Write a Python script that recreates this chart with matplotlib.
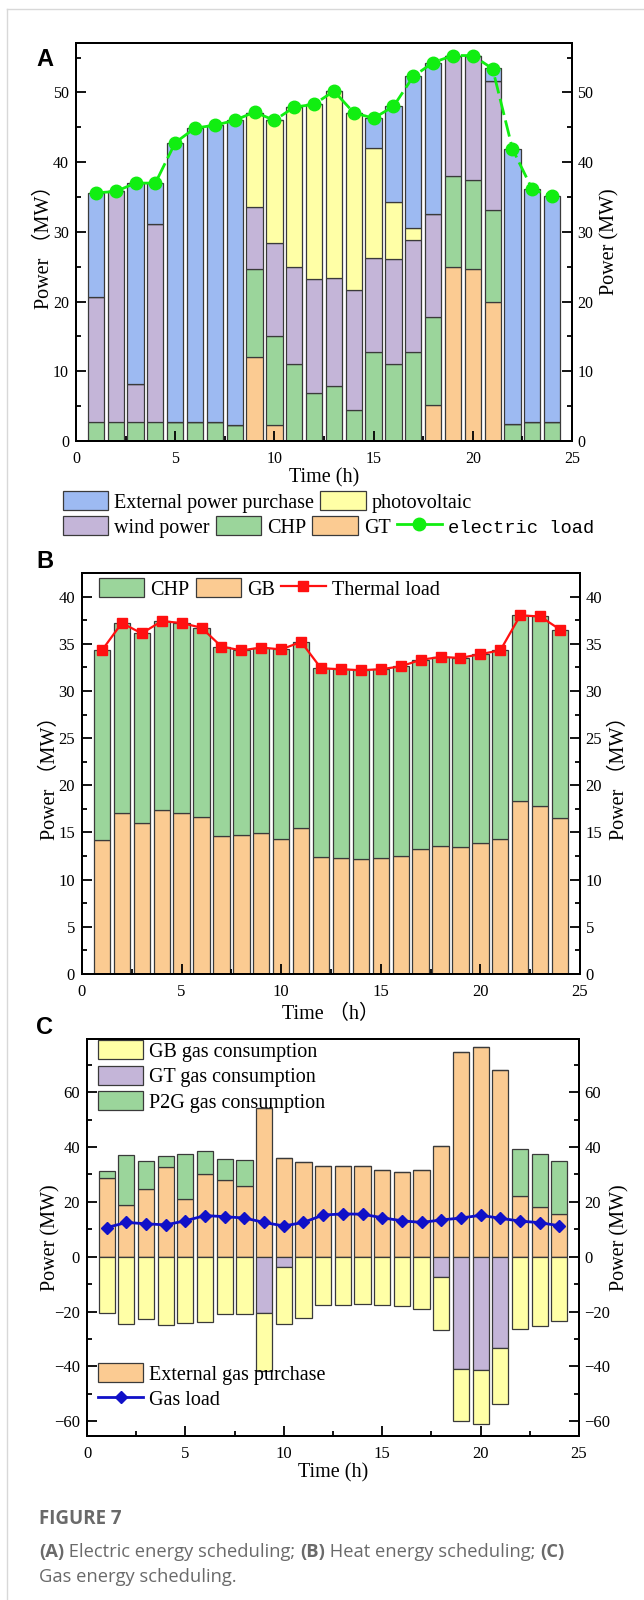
import matplotlib
matplotlib.use('Agg')
import matplotlib.pyplot as plt
import numpy as np
from matplotlib.lines import Line2D
from matplotlib.ticker import MultipleLocator

hours = np.arange(1, 25)

# (A) electric energy scheduling, MW
gt_power = [0, 0, 0, 0, 0, 0, 0, 0, 12.1, 2.3, 0, 0, 0, 0, 0, 0, 0, 5.1, 25.0, 24.7, 19.9, 0, 0, 0]
chp_power = [2.7, 2.7, 2.7, 2.7, 2.7, 2.7, 2.7, 2.3, 12.6, 12.8, 11.1, 6.9, 7.9, 4.5, 12.7, 11.0,
             12.7, 12.7, 13.0, 12.8, 13.2, 2.4, 2.7, 2.7]
wind_power = [18.0, 33.1, 5.5, 28.5, 0, 0, 0, 0, 8.8, 13.3, 13.9, 16.4, 15.5, 17.2, 13.6, 15.1,
              16.1, 14.7, 17.2, 17.7, 18.5, 0, 0, 0]
pv_power = [0, 0, 0, 0, 0, 0, 0, 0, 13.6, 17.6, 22.9, 25.0, 26.8, 25.4, 15.8, 8.2,
            1.8, 0, 0, 0, 0, 0, 0, 0]
ext_power = [14.9, 0, 28.8, 5.8, 40.1, 42.2, 42.6, 43.7, 0, 0, 0, 0, 0, 0, 4.2, 13.7,
             21.7, 21.8, 0, 0, 1.9, 39.5, 33.4, 32.4]
elec_load = [35.6, 35.8, 37.0, 37.0, 42.8, 44.9, 45.3, 46.0, 47.2, 46.0, 47.9, 48.3, 50.2, 47.1,
             46.3, 48.0, 52.3, 54.3, 55.3, 55.3, 53.4, 41.9, 36.1, 35.1]

# (B) heat energy scheduling, MW
gb_heat = [14.2, 17.1, 16.0, 17.4, 17.1, 16.6, 14.6, 14.7, 14.9, 14.3, 15.5, 12.4, 12.3, 12.2,
           12.3, 12.5, 13.3, 13.6, 13.5, 13.9, 14.3, 18.3, 17.8, 16.5]
chp_heat = [20.1, 20.1, 20.1, 20.0, 20.1, 20.1, 20.1, 19.6, 19.7, 20.1, 19.7, 20.0, 20.0, 20.0,
            20.0, 20.1, 20.0, 20.0, 20.0, 20.0, 20.0, 19.7, 20.1, 20.0]
thermal_load = [34.3, 37.2, 36.1, 37.4, 37.2, 36.7, 34.7, 34.3, 34.6, 34.4, 35.2, 32.4, 32.3, 32.2,
                32.3, 32.6, 33.3, 33.6, 33.5, 33.9, 34.3, 38.0, 37.9, 36.5]

# (C) gas energy scheduling, MW (consumptions drawn below zero)
ext_gas = [28.8, 18.7, 24.7, 32.7, 21.1, 30.2, 27.9, 25.9, 54.2, 35.9, 34.6, 33.0, 33.2, 32.9,
           31.8, 31.0, 31.5, 40.5, 74.6, 76.4, 68.0, 22.1, 18.0, 15.5]
p2g_gas = [2.4, 18.4, 10.2, 3.9, 16.4, 8.5, 7.6, 9.4, 0, 0, 0, 0, 0, 0, 0, 0, 0, 0, 0, 0, 0,
           17.2, 19.6, 19.4]
gt_gas = [0, 0, 0, 0, 0, 0, 0, 0, 20.4, 3.9, 0, 0, 0, 0, 0, 0, 0, 7.3, 40.8, 41.2, 33.3, 0, 0, 0]
gb_gas = [20.4, 24.5, 22.8, 25.0, 24.2, 23.8, 20.8, 20.9, 21.2, 20.5, 22.2, 17.7, 17.6, 17.3,
          17.7, 17.9, 19.2, 19.5, 19.3, 20.0, 20.4, 26.2, 25.3, 23.5]
gas_load = [10.6, 12.5, 12.0, 11.6, 13.1, 15.0, 14.6, 14.1, 12.5, 11.2, 12.5, 15.2, 15.6, 15.5,
            14.2, 13.1, 12.5, 13.4, 14.1, 15.1, 14.0, 13.0, 12.4, 11.3]

plt.rcParams['font.family'] = ['Liberation Serif', 'Noto Sans CJK SC']
plt.rcParams['font.size'] = 12

c_ext = '#9dbaf2'
c_pv = '#ffffa6'
c_wind = '#c4b5d8'
c_chp = '#9bd59b'
c_orange = '#fbcb92'
edge = '#3a3a3a'
W, H = 644, 1600

fig = plt.figure(figsize=(W / 100, H / 100), dpi=100)


def box(l, t, r, b):
    return [l / W, 1 - b / H, (r - l) / W, (b - t) / H]


def style(ax, ylim, major, minor, left_label, right_label, xlabel, lx, rx, tsize=12, xpad=1):
    ax.set_xlim(0, 25)
    ax.set_ylim(*ylim)
    ax.xaxis.set_major_locator(MultipleLocator(5))
    ax.xaxis.set_minor_locator(MultipleLocator(2.5))
    ax2 = ax.twinx()
    ax2.set_ylim(*ylim)
    for a in (ax, ax2):
        a.yaxis.set_major_locator(MultipleLocator(major))
        a.yaxis.set_minor_locator(MultipleLocator(minor))
        a.tick_params(which='both', direction='in', width=1.3, labelsize=tsize)
        a.tick_params(which='major', length=7)
        a.tick_params(which='minor', length=3.5)
        for s in a.spines.values():
            s.set_linewidth(1.4)
    ax.tick_params(axis='y', pad=5)
    ax.tick_params(axis='x', pad=7)
    ax2.tick_params(axis='y', pad=4)
    ax.set_ylabel(left_label, fontsize=14.5)
    ax2.set_ylabel(right_label, fontsize=14.5)
    ax.yaxis.set_label_coords(lx, 0.5)
    ax2.yaxis.set_label_coords(rx, 0.5)
    ax.set_xlabel(xlabel, fontsize=14.5, labelpad=xpad)
    return ax2


bar_kw = dict(width=0.82, edgecolor=edge, linewidth=0.9)
leg_kw = dict(frameon=False, borderpad=0, borderaxespad=0, handlelength=2.25, handleheight=1.1,
              handletextpad=0.3, columnspacing=0.3, fontsize=14.5, loc='upper left')

# ---------- A ----------
axA = fig.add_axes(box(76, 43, 572, 441))
bottom = np.zeros(24)
b_gt = axA.bar(hours, gt_power, bottom=bottom, color=c_orange, **bar_kw)
bottom += gt_power
b_chp = axA.bar(hours, chp_power, bottom=bottom, color=c_chp, **bar_kw)
bottom += chp_power
b_wind = axA.bar(hours, wind_power, bottom=bottom, color=c_wind, **bar_kw)
bottom += wind_power
b_pv = axA.bar(hours, pv_power, bottom=bottom, color=c_pv, **bar_kw)
bottom += pv_power
b_ext = axA.bar(hours, ext_power, bottom=bottom, color=c_ext, **bar_kw)
l_el, = axA.plot(hours, elec_load, color='#11ee11', lw=2, ls=(0, (6, 2)), marker='o', ms=9,
                 zorder=5)
style(axA, (0, 57.1), 10, 5, 'Power （MW）', 'Power (MW)', 'Time (h)', -0.044, 1.056,
      tsize=11.5)

fig.legend([b_ext, b_pv], ['External power purchase', 'photovoltaic'], ncol=2,
           bbox_to_anchor=(63 / W, 1 - 491 / H), **leg_kw)
lg = fig.legend([b_wind, b_chp, b_gt, Line2D([], [], color='#11ee11', lw=2, marker='o', ms=9)],
                ['wind power', 'CHP', 'GT', 'electric load'], ncol=4,
                bbox_to_anchor=(63 / W, 1 - 516 / H), **leg_kw)
lg.get_texts()[-1].set_family('Liberation Mono')
lg.get_texts()[-1].set_fontsize(13.5)

# ---------- B ----------
axB = fig.add_axes(box(82, 573, 580, 974))
b_gb = axB.bar(hours, gb_heat, color=c_orange, **bar_kw)
b_chph = axB.bar(hours, chp_heat, bottom=gb_heat, color=c_chp, **bar_kw)
l_th, = axB.plot(hours, thermal_load, color='#ff1010', lw=1.6, marker='s', ms=6.5, zorder=5)
style(axB, (0, 42.5), 5, 2.5, 'Power （MW）', 'Power （MW）', 'Time （h）', -0.044, 1.061,
      xpad=4)
axB.legend([b_chph, b_gb, l_th], ['CHP', 'GB', 'Thermal load'], ncol=3,
           bbox_to_anchor=(99 / W, 1 - 578 / H), bbox_transform=fig.transFigure, **leg_kw)

# ---------- C ----------
axC = fig.add_axes(box(87, 1039, 579, 1436))
b_eg = axC.bar(hours, ext_gas, color=c_orange, **bar_kw)
b_p2g = axC.bar(hours, p2g_gas, bottom=ext_gas, color=c_chp, **bar_kw)
neg_gt = -np.array(gt_gas)
b_gtg = axC.bar(hours, neg_gt, color=c_wind, **bar_kw)
b_gbg = axC.bar(hours, -np.array(gb_gas), bottom=neg_gt, color=c_pv, **bar_kw)
l_gas, = axC.plot(hours, gas_load, color='#1010c8', lw=2, marker='D', ms=6.5, zorder=5)
style(axC, (-65.4, 79.4), 20, 10, 'Power (MW)', 'Power (MW)', 'Time (h)', -0.054, 1.063)
kwc = dict(leg_kw, labelspacing=0.2)
legC1 = axC.legend([b_gbg, b_gtg, b_p2g], ['GB gas consumption', 'GT gas consumption',
                                           'P2G gas consumption'],
                   bbox_to_anchor=(98 / W, 1 - 1040 / H), bbox_transform=fig.transFigure, **kwc)
axC.add_artist(legC1)
axC.legend([b_eg, l_gas], ['External gas purchase', 'Gas load'],
           bbox_to_anchor=(98 / W, 1 - 1363 / H), bbox_transform=fig.transFigure, **kwc)

# panel letters
for txt, y in (('A', 59), ('B', 562), ('C', 1027)):
    fig.text(45 / W, 1 - y / H, txt, family='Liberation Sans', weight='bold', fontsize=17,
             ha='center', va='center')

# card border
fig.add_artist(Line2D([7 / W, 1], [1 - 9 / H, 1 - 9 / H], color='#d8d8d8', lw=1))
fig.add_artist(Line2D([7 / W, 7 / W], [0, 1 - 9 / H], color='#d8d8d8', lw=1))

# caption
cap = fig.add_axes([0, 0, 1, 1])
cap.axis('off')
grey = '#6a6a6a'
cap.text(39 / W, 1 - 1519 / H, 'FIGURE 7', family='Open Sans', weight='bold', fontsize=13.5,
         color=grey, va='center')
ck = dict(family='Open Sans', fontsize=13.2, color=grey, va='bottom')
prev = cap.text(39 / W, 1 - 1561 / H, '(A)', weight='bold', **ck)
for part, bold in ((' Electric energy scheduling; ', False), ('(B)', True),
                   (' Heat energy scheduling; ', False), ('(C)', True)):
    prev = cap.annotate(part, xy=(1, 0), xycoords=prev, weight='bold' if bold else 'normal', **ck)
cap.text(39 / W, 1 - 1586 / H, 'Gas energy scheduling.', **ck)

fig.savefig('out.png', dpi=100)
